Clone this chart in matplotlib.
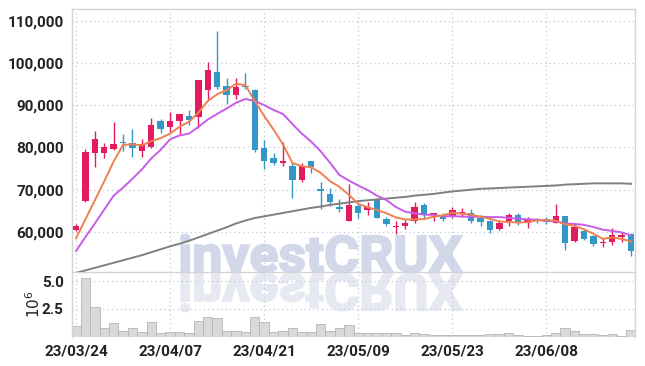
import matplotlib.pyplot as plt
from matplotlib.ticker import FuncFormatter
from matplotlib.textpath import TextPath
from matplotlib.patches import PathPatch
from matplotlib.font_manager import FontProperties
from matplotlib.transforms import Affine2D

plt.rcParams['font.family'] = ['Liberation Sans Narrow', 'Roboto', 'DejaVu Sans']

# daily prices, 2023-03-24 .. 2023-06-21 (trading days)
opens = [60500, 67400, 78600, 78600, 79600, 81400, 81100, 79100, 80100, 86300,
         84800, 86300, 87400, 87200, 93600, 97900, 94500, 92500, 94600, 93700,
         79800, 77400, 76300, 75700, 72200, 76700, 70200, 69000, 66000, 62700,
         66200, 65100, 67800, 63000, 61100, 61300, 62700, 66400, 64000, 64000,
         63600, 64400, 64400, 63400, 62500, 60600, 62500, 64000, 62100, 63000,
         63000, 62200, 63800, 57900, 60200, 59000, 57300, 57700, 58900, 59500]
highs = [61900, 79700, 84000, 81100, 86100, 83300, 84300, 82100, 87000, 86700,
         88300, 88000, 88900, 96000, 100200, 107600, 96400, 96400, 97600, 93800,
         81800, 78700, 81300, 76300, 76300, 76900, 71800, 70400, 67800, 71400,
         66800, 67200, 68000, 63600, 62500, 62900, 67000, 66800, 64600, 64600,
         65800, 65600, 65400, 64000, 62900, 62900, 64600, 64400, 63500, 63400,
         63500, 66700, 63800, 62200, 60700, 59300, 58500, 60900, 60100, 59700]
lows = [60300, 67200, 75400, 77600, 79500, 79200, 77800, 77800, 79800, 83500,
        83500, 83300, 85400, 84700, 91400, 93800, 90400, 91400, 93800, 78900,
        74900, 75800, 75700, 68000, 71900, 74000, 65400, 66200, 64800, 62700,
        63300, 64000, 63300, 61300, 59500, 60600, 62200, 63000, 62500, 62700,
        63300, 63600, 62100, 61500, 59700, 60500, 61400, 61700, 60900, 62100,
        62000, 62100, 55700, 57700, 58200, 56700, 56500, 56900, 57700, 54300]
closes = [61500, 79000, 82100, 80200, 80700, 81000, 79800, 80700, 85200, 84400,
          86300, 87900, 86500, 95900, 98300, 94400, 92500, 94300, 94300, 79500,
          76700, 76300, 76900, 72200, 75700, 75400, 69800, 67000, 65400, 66400,
          64600, 65900, 63400, 61900, 61400, 62200, 65900, 63900, 64600, 63100,
          65200, 64800, 62700, 62300, 60500, 62200, 64000, 62100, 62900, 62500,
          62300, 63800, 57500, 61100, 58400, 57100, 57700, 59200, 59300, 55500]
volumes = [0.95, 5.26, 2.66, 0.77, 1.19, 0.47, 0.74, 0.38, 1.28, 0.29,
           0.38, 0.38, 0.29, 1.37, 1.73, 1.64, 0.52, 0.52, 0.43, 1.73,
           1.28, 0.38, 0.47, 0.74, 0.38, 0.38, 1.10, 0.47, 0.74, 1.01,
           0.29, 0.29, 0.29, 0.29, 0.29, 0.11, 0.29, 0.23, 0.14, 0.14,
           0.14, 0.14, 0.14, 0.14, 0.23, 0.23, 0.32, 0.14, 0.07, 0.07,
           0.14, 0.34, 0.74, 0.47, 0.23, 0.23, 0.14, 0.23, 0.07, 0.56]  # millions

ma5 = [58500, 63000, 67500, 72000, 76700, 80600, 80760, 80480, 81480, 82220,
       83280, 84900, 86060, 88200, 90980, 92600, 93520, 95080, 94760, 91000,
       87460, 84220, 80740, 76320, 75560, 75300, 74000, 72020, 70660, 68800,
       66640, 65860, 65140, 64440, 63440, 62960, 62960, 63060, 63600, 63940,
       64540, 64320, 64080, 63620, 63100, 62500, 62340, 62220, 62340, 62740,
       62760, 62720, 61800, 61440, 60620, 59580, 58360, 58700, 58340, 57760]
ma10 = [55500, 58800, 62000, 65300, 68600, 70500, 72600, 74800, 77400, 79460,
        81940, 82830, 83270, 84840, 86600, 87940, 89210, 90570, 91480, 90990,
        90030, 88870, 87910, 85540, 83280, 81380, 79110, 76380, 73490, 72180,
        70970, 69930, 68580, 67550, 65900, 64800, 64410, 64100, 64020, 63690,
        63750, 63640, 63570, 63610, 63520, 63520, 63330, 63150, 62980, 62920,
        62630, 62530, 62010, 61890, 61680, 61170, 60540, 60250, 59890, 59190]
ma60 = [50300, 50900, 51500, 52100, 52700, 53300, 53900, 54500, 55200, 55900,
        56600, 57200, 57900, 58700, 59500, 60300, 61100, 62000, 62700, 63300,
        63700, 64100, 64500, 64900, 65300, 65700, 66000, 66400, 66700, 67000,
        67300, 67500, 67700, 67900, 68100, 68300, 68600, 68800, 69000, 69300,
        69600, 69800, 70000, 70200, 70300, 70400, 70500, 70600, 70700, 70800,
        70900, 71000, 71200, 71300, 71400, 71500, 71500, 71500, 71500, 71400]

tick_pos = [0, 10, 20, 30, 40, 50]
tick_labels = ['23/03/24', '23/04/07', '23/04/21', '23/05/09', '23/05/23', '23/06/08']

up_color = '#e31b5f'
down_color = '#3397c8'
grid_color = '#c4c8d6'
spine_color = '#d4d4d4'

fig = plt.figure(figsize=(6.45, 3.66), dpi=100)
ax = fig.add_axes([0.1116, 0.2560, 0.8729, 0.7186])
axv = fig.add_axes([0.1116, 0.0806, 0.8729, 0.1754], sharex=ax)
for a in (ax, axv):
    a.set_facecolor('none')
    for s in a.spines.values():
        s.set_color(spine_color)
        s.set_linewidth(1.0)
    a.grid(True, color=grid_color, linestyle=(0, (1, 2.5)), linewidth=0.9)
    a.tick_params(length=0, pad=6, labelsize=11, labelcolor='#222222')
axv.spines['top'].set_visible(False)
axv.spines['bottom'].set_visible(False)

x = list(range(len(closes)))
colors = [up_color if c >= o else down_color for o, c in zip(opens, closes)]
bottoms = [min(o, c) for o, c in zip(opens, closes)]
heights = [max(abs(c - o), 200) for o, c in zip(opens, closes)]

ax.vlines(x, lows, highs, colors=colors, linewidth=1.0, zorder=3)
ax.bar(x, heights, bottom=bottoms, width=0.68, color=colors, linewidth=0, zorder=3)
ax.plot(x, ma60, color='#808080', linewidth=1.4, zorder=4)
ax.plot(x, ma10, color='#c65ce8', linewidth=1.4, zorder=4)
ax.plot(x, ma5, color='#ef8050', linewidth=1.4, zorder=4)

ax.set_xlim(-0.43, 59.42)
ax.set_ylim(50450, 112700)
ax.set_yticks([60000, 70000, 80000, 90000, 100000, 110000])
ax.yaxis.set_major_formatter(FuncFormatter(lambda v, p: f'{v:,.0f}'))
ax.tick_params(axis='x', labelbottom=False)

axv.bar(x, volumes, width=1.0, color='#d9d9d9', edgecolor='#b5b5b5', linewidth=0.6, zorder=2)
axv.set_ylim(0, 5.79)
axv.set_yticks([2.5, 5.0])
axv.yaxis.set_major_formatter(FuncFormatter(lambda v, p: f'{v:.1f}'))
axv.set_xticks(tick_pos)
axv.set_xticklabels(tick_labels)
axv.set_ylabel(r'$10^{6}$', fontsize=11, color='#222222', labelpad=-1)

for lab in ax.get_yticklabels() + axv.get_yticklabels() + axv.get_xticklabels():
    lab.set_fontweight('bold')

# watermark with reflection
fp = FontProperties(family=['Roboto', 'DejaVu Sans'], weight='bold')
wm = TextPath((0, 0), 'investCRUX', size=100, prop=fp)
ext = wm.get_extents()
cap = TextPath((0, 0), 'X', size=100, prop=fp).get_extents().y1
sx = 281.0 / ext.width
sy = 36.0 / cap
left_px, base_px = 181, 94
t_main = Affine2D().translate(-ext.x0, 0).scale(sx, sy).translate(left_px, base_px)
t_refl = Affine2D().translate(-ext.x0, 0).scale(sx, -sy).translate(left_px, base_px - 2)
fig.add_artist(PathPatch(wm, transform=t_main, facecolor='#d2d7ea', edgecolor='#d2d7ea',
                         linewidth=1.5, zorder=-1))
fig.add_artist(PathPatch(wm, transform=t_refl, facecolor='#e7e9f2', edgecolor='#e7e9f2',
                         linewidth=1.5, zorder=-1))

fig.savefig('out.png', dpi=100)
